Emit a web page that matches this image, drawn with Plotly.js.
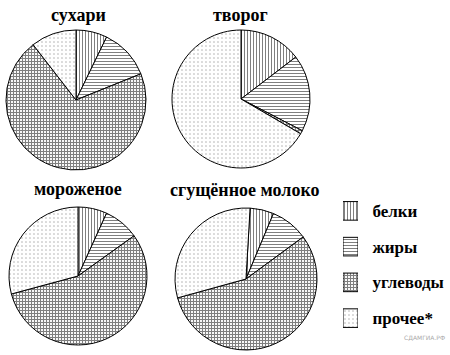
<!DOCTYPE html>
<html><head><meta charset="utf-8">
<script src="https://cdn.plot.ly/plotly-3.0.1.min.js"></script>
<style>html,body{margin:0;padding:0;background:#fff}#chart{width:450px;height:355px}</style>
</head><body><div id="chart"></div>
<script>
const nutrients = ["белки", "жиры", "углеводы", "прочее*"];
const legendLabels = ["белки", "жиры", "углеводы", "прочее*"];
const products = ["сухари", "творог", "мороженое", "сгущённое молоко"];
const suhari = [7.2, 11.7, 70.6, 10.5];
const tvorog = [14.6, 18.0, 0.8, 66.6];
const morozhenoe = [6.8, 8.3, 55.7, 29.2];
const sgushchenka = [5.4, 8.6, 55.8, 30.2];
const seriesValues = [suhari, tvorog, morozhenoe, sgushchenka];

const W = 450, H = 355;
const SERIF = "Liberation Serif";
const pieGeom = [
  {cx: 76, cy: 100, r: 70, rot: 0, tx: 78, ty: 15},
  {cx: 241, cy: 99, r: 69, rot: 0, tx: 240, ty: 15},
  {cx: 78, cy: 276, r: 69, rot: 0, tx: 78, ty: 189},
  {cx: 246, cy: 279, r: 71, rot: 3.3, tx: 245, ty: 190}
];
const shapes = ["|", "-", "+", "."];
const fg = ["#000", "#000", "#000", "#555"];
const sizes = [3, 3, 3, 4];
const solid = [0.34, 0.34, 0.6, 0.12];

const traces = [];
const annotations = [];
seriesValues.forEach((vals, i) => {
  const g = pieGeom[i];
  traces.push({
    type: "pie", labels: nutrients, values: vals, sort: false, direction: "clockwise",
    rotation: g.rot, textinfo: "none", hoverinfo: "label+percent", showlegend: false,
    domain: {x: [(g.cx - g.r) / W, (g.cx + g.r) / W], y: [(H - g.cy - g.r) / H, (H - g.cy + g.r) / H]},
    marker: {colors: ["#fff", "#fff", "#fff", "#fff"], line: {color: "#000", width: 1},
      pattern: {shape: shapes, fgcolor: fg, bgcolor: "#fff", size: sizes, solidity: solid, fillmode: "overlay"}}
  });
  annotations.push({text: "<b>" + products[i] + "</b>", x: g.tx / W, y: 1 - g.ty / H, xref: "paper", yref: "paper",
    showarrow: false, xanchor: "center", yanchor: "middle",
    font: {family: SERIF, size: 18, color: "#000"}});
});

// legend drawn as a small bar chart
traces.push({
  type: "bar", orientation: "h", y: legendLabels, x: legendLabels.map(() => 1), width: 0.52,
  xaxis: "x", yaxis: "y", showlegend: false, hoverinfo: "skip",
  marker: {color: "#fff", line: {color: "#000", width: 1},
    pattern: {shape: shapes, fgcolor: fg, bgcolor: "#fff", size: sizes, solidity: solid, fillmode: "overlay"}}
});
annotations.push({text: "СДАМГИА.РФ", x: 447 / W, y: 1 - 337 / H, xref: "paper", yref: "paper", showarrow: false,
  xanchor: "right", yanchor: "middle", font: {family: "DejaVu Sans", size: 6, color: "#aaa"}});

const layout = {
  width: W, height: H, margin: {l: 0, r: 0, t: 0, b: 0}, paper_bgcolor: "#fff", plot_bgcolor: "#fff",
  showlegend: false,
  xaxis: {domain: [343 / W, 358 / W], range: [0, 1], visible: false, fixedrange: true},
  yaxis: {domain: [(H - 336) / H, (H - 193) / H], type: "category", categoryarray: legendLabels,
    tickvals: legendLabels, ticktext: legendLabels.map(s => "<b>" + s + "</b>"),
    autorange: "reversed", side: "right", showgrid: false, zeroline: false, showline: false,
    ticks: "outside", ticklen: 10, tickcolor: "rgba(0,0,0,0)",
    tickfont: {family: SERIF, size: 17, color: "#000"}},
  annotations: annotations
};
Plotly.newPlot("chart", traces, layout, {displayModeBar: false, staticPlot: true});
</script></body></html>
